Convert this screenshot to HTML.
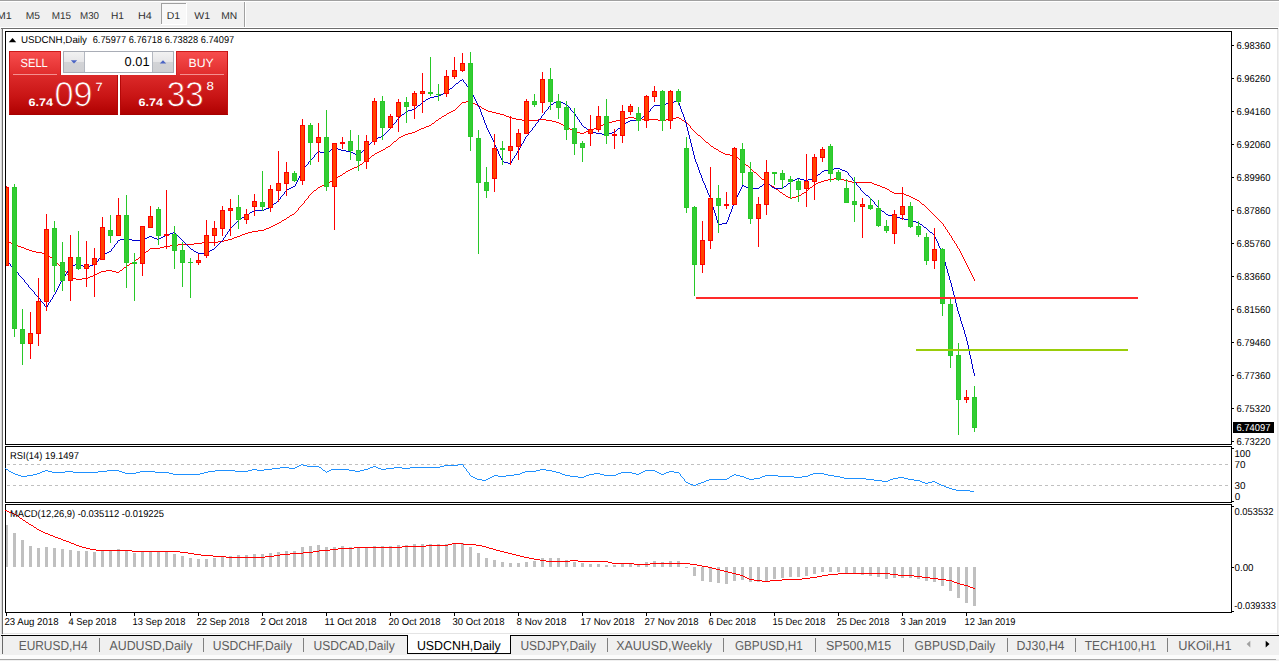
<!DOCTYPE html>
<html><head><meta charset="utf-8"><title>USDCNH,Daily</title>
<style>
html,body{margin:0;padding:0;background:#f0f0f0;overflow:hidden}
svg{display:block;font-family:"Liberation Sans",sans-serif;text-rendering:geometricPrecision}
</style></head><body>
<svg width="1279" height="661" viewBox="0 0 1279 661">
<rect x="0" y="0" width="1279" height="661" fill="#f0f0f0" />
<rect x="0" y="0" width="1279" height="1" fill="#a0a0a0" />
<rect x="0" y="1" width="1279" height="1" fill="#ffffff" />
<rect x="161" y="3" width="26" height="22" fill="#f8f8f8" />
<rect x="161" y="3" width="26" height="1" fill="#a0a0a0" />
<rect x="161" y="3" width="1" height="22" fill="#a0a0a0" />
<rect x="186" y="3" width="1" height="22" fill="#ffffff" />
<rect x="161" y="24" width="26" height="1" fill="#ffffff" />
<rect x="244" y="2" width="1" height="25" fill="#a0a0a0" />
<rect x="245" y="2" width="1" height="25" fill="#ffffff" />
<text x="-3.3" y="19" font-size="10" fill="#303030" font-weight="normal" text-anchor="start" textLength="15.0" lengthAdjust="spacingAndGlyphs" >M1</text>
<text x="25.8" y="19" font-size="10" fill="#303030" font-weight="normal" text-anchor="start" textLength="14.3" lengthAdjust="spacingAndGlyphs" >M5</text>
<text x="51.800000000000004" y="19" font-size="10" fill="#303030" font-weight="normal" text-anchor="start" textLength="19.3" lengthAdjust="spacingAndGlyphs" >M15</text>
<text x="80.0" y="19" font-size="10" fill="#303030" font-weight="normal" text-anchor="start" textLength="19.0" lengthAdjust="spacingAndGlyphs" >M30</text>
<text x="111.0" y="19" font-size="10" fill="#303030" font-weight="normal" text-anchor="start" textLength="13.0" lengthAdjust="spacingAndGlyphs" >H1</text>
<text x="138.0" y="19" font-size="10" fill="#303030" font-weight="normal" text-anchor="start" textLength="13.8" lengthAdjust="spacingAndGlyphs" >H4</text>
<text x="166.79999999999998" y="19" font-size="10" fill="#303030" font-weight="normal" text-anchor="start" textLength="13.4" lengthAdjust="spacingAndGlyphs" >D1</text>
<text x="194.2" y="19" font-size="10" fill="#303030" font-weight="normal" text-anchor="start" textLength="15.8" lengthAdjust="spacingAndGlyphs" >W1</text>
<text x="221.2" y="19" font-size="10" fill="#303030" font-weight="normal" text-anchor="start" textLength="16.0" lengthAdjust="spacingAndGlyphs" >MN</text>
<rect x="0" y="27" width="1279" height="1" fill="#ffffff" />
<rect x="1" y="28" width="1277" height="1" fill="#6e6e6e" />
<rect x="3" y="29" width="1274" height="606" fill="#ffffff" />
<rect x="3" y="633" width="1274" height="1" fill="#e4e4e4" />
<rect x="1277" y="29" width="1" height="606" fill="#e6e6e6" />
<rect x="2" y="28" width="1" height="606" fill="#6e6e6e" />
<rect x="1" y="29" width="1" height="605" fill="#d8d8d8" />
<rect x="1" y="635" width="1278" height="1" fill="#000000" />
<rect x="2" y="636" width="1" height="18" fill="#696969" />
<rect x="0" y="655" width="1279" height="4" fill="#fcfcfc" />
<rect x="0" y="659" width="1276" height="1" fill="#a6a6a6" />
<rect x="5" y="31" width="1227" height="1" fill="#000" />
<rect x="5" y="444" width="1227" height="1" fill="#000" />
<rect x="5" y="31" width="1" height="414" fill="#000" />
<rect x="1231" y="31" width="1" height="414" fill="#000" />
<rect x="5" y="446" width="1227" height="1" fill="#000" />
<rect x="5" y="502" width="1227" height="1" fill="#000" />
<rect x="5" y="446" width="1" height="57" fill="#000" />
<rect x="1231" y="446" width="1" height="57" fill="#000" />
<rect x="5" y="504" width="1227" height="1" fill="#000" />
<rect x="5" y="612" width="1227" height="1" fill="#000" />
<rect x="5" y="504" width="1" height="109" fill="#000" />
<rect x="1231" y="504" width="1" height="109" fill="#000" />
<g shape-rendering="crispEdges">
<path fill="none" stroke="#ff0000" stroke-width="1" d="M224 240.5h4M7 241.5h2M218 241.5h6M9 242.5h2M202 242.5h16M11 243.5h2M194 243.5h8M13 244.5h3M178 244.5h16M16 245.5h2M170 245.5h8M18 246.5h3M164 246.5h6M21 247.5h3M160 247.5h4M24 248.5h2M150 248.5h10M26 249.5h3M29 250.5h3M32 251.5h4M146 251.5h2M36 252.5h6M42 253.5h5M140 256.5h2M50 257.5h2M136 259.5h2M132 262.5h2M130 263.5h2M127 265.5h2M124 267.5h2M106 270.5h6M120 270.5h2M101 271.5h5M112 271.5h4M99 272.5h2M116 272.5h3M97 273.5h2M95 274.5h2M93 275.5h2M90 276.5h3M70 277.5h2M88 277.5h2M72 278.5h4M82 278.5h6M76 279.5h6M228 239.5h4M232 238.5h2M234 237.5h3M237 236.5h3M240 235.5h2M242 234.5h3M245 233.5h3M248 232.5h4M252 231.5h6M258 230.5h6M264 229.5h2M266 228.5h3M269 227.5h2M271 226.5h2M273 225.5h2M275 224.5h2M277 223.5h2M279 222.5h2M282 220.5h2M284 219.5h2M287 217.5h2M290 215.5h2M292 214.5h2M922 204.5h2M917 200.5h2M915 199.5h2M790 198.5h2M913 198.5h2M786 196.5h2M796 196.5h3M909 196.5h2M788 197.5h2M792 197.5h4M911 197.5h2M799 195.5h2M906 195.5h3M783 194.5h2M904 194.5h2M802 193.5h2M894 193.5h10M780 192.5h2M804 192.5h2M892 192.5h2M890 191.5h2M314 190.5h2M776 189.5h2M887 189.5h2M885 188.5h2M318 187.5h2M810 187.5h2M882 187.5h3M320 186.5h2M772 186.5h2M880 186.5h2M322 185.5h3M770 185.5h2M877 185.5h3M325 184.5h2M814 184.5h2M874 184.5h3M327 183.5h2M767 183.5h2M816 183.5h2M872 183.5h2M818 182.5h3M852 182.5h20M330 181.5h2M821 181.5h3M848 181.5h4M332 180.5h2M824 180.5h4M844 180.5h4M762 179.5h2M828 179.5h6M840 179.5h4M335 178.5h2M834 178.5h6M338 176.5h2M340 175.5h2M343 173.5h2M754 172.5h2M346 171.5h2M348 170.5h2M350 169.5h2M352 168.5h2M354 167.5h3M357 166.5h2M746 165.5h2M360 164.5h2M364 161.5h2M740 160.5h2M368 158.5h2M736 157.5h2M372 155.5h2M730 155.5h5M725 154.5h5M375 153.5h2M723 153.5h2M377 152.5h2M721 152.5h2M379 151.5h2M719 151.5h2M381 150.5h2M383 149.5h2M716 149.5h2M714 148.5h2M386 147.5h2M388 146.5h2M711 146.5h2M706 142.5h2M394 141.5h2M399 137.5h2M401 136.5h2M403 135.5h2M698 135.5h2M405 134.5h3M408 133.5h4M580 133.5h4M412 132.5h3M576 132.5h4M584 132.5h2M415 131.5h2M574 131.5h2M586 131.5h3M417 130.5h2M572 130.5h2M589 130.5h3M419 129.5h2M570 129.5h2M592 129.5h2M421 128.5h3M594 128.5h3M424 127.5h2M567 127.5h2M597 127.5h2M426 126.5h3M565 126.5h2M599 126.5h2M429 125.5h2M563 125.5h2M601 125.5h2M561 124.5h2M603 124.5h2M432 123.5h2M559 123.5h2M605 123.5h3M556 122.5h3M608 122.5h4M552 121.5h4M612 121.5h4M684 121.5h2M436 120.5h2M522 120.5h16M546 120.5h6M616 120.5h4M658 120.5h8M682 120.5h2M516 119.5h6M538 119.5h8M620 119.5h4M642 119.5h16M666 119.5h6M439 118.5h2M512 118.5h4M624 118.5h4M634 118.5h8M672 118.5h4M679 118.5h2M509 117.5h3M628 117.5h6M676 117.5h3M442 116.5h2M506 116.5h3M444 115.5h2M504 115.5h2M500 114.5h4M447 113.5h2M496 113.5h4M449 112.5h2M492 112.5h4M451 111.5h2M488 111.5h4M453 110.5h2M486 110.5h2M484 109.5h2M482 108.5h2M479 106.5h2M477 105.5h2M475 104.5h2M473 103.5h2M462 102.5h4M471 102.5h2M466 101.5h5M6 240.5h1M47 254.5h1M48 255.5h1M49 256.5h1M52 258.5h1M53 259.5h1M54 260.5h1M55 261.5h1M56 262.5h1M57 263.5h1M58 264.5h1M59 265.5h1M60 266.5h1M61 267.5h1M62 268.5h1M63 269.5h1M64 270.5h1M65 271.5h1M66.5 272v2M67 274.5h1M68 275.5h1M69 276.5h1M119 271.5h1M122 269.5h1M123 268.5h1M126 266.5h1M129 264.5h1M134 261.5h1M135 260.5h1M138 258.5h1M139 257.5h1M142 255.5h1M143 254.5h1M144 253.5h1M145 252.5h1M148 250.5h1M149 249.5h1M281 221.5h1M286 218.5h1M289 216.5h1M294 213.5h1M295 212.5h1M296 211.5h1M297 210.5h1M298.5 208v2M299 207.5h1M300 206.5h1M301 205.5h1M302 204.5h1M303 203.5h1M304.5 201v2M305 200.5h1M306 199.5h1M307 198.5h1M308.5 196v2M309 195.5h1M310 194.5h1M311 193.5h1M312 192.5h1M313 191.5h1M316 189.5h1M317 188.5h1M329 182.5h1M334 179.5h1M337 177.5h1M342 174.5h1M345 172.5h1M359 165.5h1M362 163.5h1M363 162.5h1M366 160.5h1M367 159.5h1M370 157.5h1M371 156.5h1M374 154.5h1M385 148.5h1M390 145.5h1M391 144.5h1M392 143.5h1M393 142.5h1M396 140.5h1M397 139.5h1M398 138.5h1M431 124.5h1M434 122.5h1M435 121.5h1M438 119.5h1M441 117.5h1M446 114.5h1M455 109.5h1M456 108.5h1M457 107.5h1M458 106.5h1M459 105.5h1M460 104.5h1M461 103.5h1M481 107.5h1M569 128.5h1M681 119.5h1M686 122.5h1M687 123.5h1M688 124.5h1M689 125.5h1M690.5 126v2M691 128.5h1M692 129.5h1M693 130.5h1M694 131.5h1M695 132.5h1M696 133.5h1M697 134.5h1M700 136.5h1M701 137.5h1M702 138.5h1M703 139.5h1M704 140.5h1M705 141.5h1M708 143.5h1M709 144.5h1M710 145.5h1M713 147.5h1M718 150.5h1M735 156.5h1M738 158.5h1M739 159.5h1M742 161.5h1M743 162.5h1M744 163.5h1M745 164.5h1M748 166.5h1M749 167.5h1M750 168.5h1M751 169.5h1M752 170.5h1M753 171.5h1M756 173.5h1M757 174.5h1M758 175.5h1M759 176.5h1M760 177.5h1M761 178.5h1M764 180.5h1M765 181.5h1M766 182.5h1M769 184.5h1M774 187.5h1M775 188.5h1M778 190.5h1M779 191.5h1M782 193.5h1M785 195.5h1M801 194.5h1M806 191.5h1M807 190.5h1M808 189.5h1M809 188.5h1M812 186.5h1M813 185.5h1M889 190.5h1M919 201.5h1M920 202.5h1M921 203.5h1M924 205.5h1M925 206.5h1M926 207.5h1M927 208.5h1M928 209.5h1M929 210.5h1M930 211.5h1M931 212.5h1M932 213.5h1M933 214.5h1M934 215.5h1M935 216.5h1M936 217.5h1M937 218.5h1M938 219.5h1M939 220.5h1M940 221.5h1M941 222.5h1M942 223.5h1M943.5 224v2M944 226.5h1M945.5 227v2M946 229.5h1M947.5 230v2M948 232.5h1M949.5 233v2M950 235.5h1M951.5 236v2M952.5 238v2M953 240.5h1M954.5 241v2M955 243.5h1M956.5 244v2M957.5 246v2M958 248.5h1M959.5 249v2M960.5 251v2M961.5 253v2M962.5 255v2M963.5 257v2M964.5 259v2M965.5 261v2M966.5 263v2M967.5 265v2M968.5 267v2M969.5 269v2M970.5 271v2M971.5 273v2M972.5 275v2M973.5 277v2M974.5 279v2"/>
<path fill="none" stroke="#0000cd" stroke-width="1" d="M77 263.5h2M75 264.5h2M79 264.5h2M93 264.5h2M73 265.5h2M81 265.5h2M90 265.5h3M71 266.5h2M83 266.5h2M88 266.5h2M85 267.5h3M103 254.5h2M105 253.5h2M198 253.5h9M107 252.5h2M196 252.5h2M207 252.5h2M109 251.5h2M194 251.5h2M191 249.5h2M212 249.5h2M210 250.5h2M118 240.5h2M132 240.5h11M120 239.5h4M128 239.5h4M143 239.5h2M157 239.5h2M124 238.5h4M145 238.5h2M154 238.5h3M159 238.5h2M147 237.5h2M152 237.5h2M161 237.5h2M149 236.5h3M163 236.5h2M165 235.5h3M168 234.5h2M170 233.5h3M173 232.5h2M930 232.5h2M924 227.5h2M718 224.5h4M920 224.5h2M722 223.5h5M916 222.5h3M912 221.5h4M908 220.5h4M239 219.5h2M904 219.5h4M900 218.5h4M242 217.5h2M896 217.5h4M244 216.5h2M892 216.5h4M888 215.5h4M247 214.5h2M886 214.5h2M250 212.5h2M252 211.5h2M882 211.5h2M254 210.5h10M264 209.5h2M266 208.5h3M269 207.5h2M274 203.5h2M866 195.5h2M287 189.5h2M289 188.5h2M749 188.5h10M774 188.5h9M291 187.5h2M746 187.5h3M772 187.5h2M293 186.5h2M744 186.5h2M760 186.5h2M784 186.5h2M768 184.5h2M742 185.5h2M764 183.5h2M788 183.5h2M793 180.5h2M804 180.5h4M791 181.5h2M797 178.5h3M812 178.5h3M795 179.5h2M800 179.5h4M808 179.5h4M818 174.5h2M824 170.5h4M842 170.5h3M822 171.5h2M845 171.5h2M828 169.5h6M840 169.5h2M834 168.5h6M504 162.5h4M508 163.5h3M502 161.5h2M357 155.5h2M355 154.5h2M324 153.5h3M353 153.5h2M320 152.5h4M351 152.5h2M318 151.5h2M328 151.5h2M346 151.5h5M341 150.5h5M338 149.5h3M332 148.5h2M336 148.5h2M334 147.5h2M374 139.5h2M376 138.5h2M378 137.5h3M381 136.5h2M602 134.5h6M596 133.5h6M608 133.5h4M592 132.5h4M612 132.5h3M590 131.5h2M588 130.5h2M618 128.5h2M584 127.5h2M623 124.5h2M626 122.5h2M630 120.5h9M628 121.5h2M640 118.5h2M644 115.5h2M402 114.5h2M406 111.5h2M408 110.5h4M412 109.5h3M418 105.5h2M654 105.5h10M551 104.5h2M565 104.5h2M664 104.5h2M563 103.5h2M666 103.5h3M554 102.5h2M561 102.5h2M669 102.5h5M423 101.5h2M556 101.5h2M559 101.5h2M674 101.5h5M426 99.5h2M428 98.5h2M430 97.5h4M434 96.5h5M439 95.5h2M441 94.5h2M443 93.5h2M445 92.5h2M450 88.5h2M456 83.5h2M460 80.5h2M6 260.5h1M7 261.5h1M8 262.5h1M9 263.5h1M10.5 264v2M11 266.5h1M12 267.5h1M13 268.5h1M14 269.5h1M15 270.5h1M16 271.5h1M17 272.5h1M18.5 273v2M19 275.5h1M20 276.5h1M21 277.5h1M22 278.5h1M23 279.5h1M24.5 280v2M25 282.5h1M26 283.5h1M27 284.5h1M28.5 285v2M29 287.5h1M30 288.5h1M31 289.5h1M32 290.5h1M33 291.5h1M34.5 292v2M35 294.5h1M36 295.5h1M37 296.5h1M38 297.5h1M39 298.5h1M40.5 299v2M41 301.5h1M42 302.5h1M43 303.5h1M44.5 304v2M45 306.5h1M46 307.5h1M47.5 305v2M48.5 303v2M49 302.5h1M50.5 300v2M51 299.5h1M52.5 297v2M53.5 295v2M54 294.5h1M55.5 292v2M56.5 290v2M57.5 288v2M58.5 286v2M59.5 284v2M60.5 282v2M61.5 280v2M62 279.5h1M63.5 277v2M64 276.5h1M65.5 274v2M66 273.5h1M67.5 271v2M68 270.5h1M69.5 268v2M70 267.5h1M95 263.5h1M96 262.5h1M97 261.5h1M98.5 259v2M99 258.5h1M100 257.5h1M101 256.5h1M102 255.5h1M111.5 249v2M112 248.5h1M113 247.5h1M114.5 245v2M115 244.5h1M116 243.5h1M117.5 241v2M175 233.5h1M176 234.5h1M177 235.5h1M178 236.5h1M179 237.5h1M180 238.5h1M181 239.5h1M182 240.5h1M183 241.5h1M184 242.5h1M185 243.5h1M186 244.5h1M187 245.5h1M188 246.5h1M189 247.5h1M190 248.5h1M193 250.5h1M209 251.5h1M214 248.5h1M215 247.5h1M216 246.5h1M217 245.5h1M218 244.5h1M219 243.5h1M220 242.5h1M221 241.5h1M222 240.5h1M223.5 238v2M224 237.5h1M225.5 235v2M226 234.5h1M227.5 232v2M228 231.5h1M229.5 229v2M230 228.5h1M231 227.5h1M232 226.5h1M233 225.5h1M234 224.5h1M235 223.5h1M236 222.5h1M237 221.5h1M238 220.5h1M241 218.5h1M246 215.5h1M249 213.5h1M271 206.5h1M272 205.5h1M273 204.5h1M276 202.5h1M277 201.5h1M278 200.5h1M279 199.5h1M280.5 197v2M281 196.5h1M282 195.5h1M283 194.5h1M284.5 192v2M285 191.5h1M286 190.5h1M295.5 184v2M296.5 182v2M297.5 180v2M298.5 178v2M299.5 176v2M300.5 174v2M301.5 172v2M302.5 170v2M303 169.5h1M304.5 167v2M305 166.5h1M306 165.5h1M307 164.5h1M308.5 162v2M309 161.5h1M310 160.5h1M311 159.5h1M312 158.5h1M313 157.5h1M314.5 155v2M315 154.5h1M316 153.5h1M317 152.5h1M327 152.5h1M330 150.5h1M331 149.5h1M359 154.5h1M360 153.5h1M361 152.5h1M362 151.5h1M363 150.5h1M364 149.5h1M365 148.5h1M366 147.5h1M367 146.5h1M368 145.5h1M369 144.5h1M370 143.5h1M371 142.5h1M372 141.5h1M373 140.5h1M383 135.5h1M384 134.5h1M385 133.5h1M386 132.5h1M387 131.5h1M388 130.5h1M389 129.5h1M390 128.5h1M391 127.5h1M392.5 125v2M393 124.5h1M394 123.5h1M395 122.5h1M396.5 120v2M397 119.5h1M398 118.5h1M399 117.5h1M400 116.5h1M401 115.5h1M404 113.5h1M405 112.5h1M415 108.5h1M416 107.5h1M417 106.5h1M420 104.5h1M421 103.5h1M422 102.5h1M425 100.5h1M447 91.5h1M448 90.5h1M449 89.5h1M452 87.5h1M453 86.5h1M454 85.5h1M455 84.5h1M458 82.5h1M459 81.5h1M462 79.5h1M463.5 80v2M464 82.5h1M465 83.5h1M466.5 84v2M467 86.5h1M468 87.5h1M469.5 88v2M470 90.5h1M471.5 91v2M472.5 93v2M473.5 95v2M474.5 97v2M475.5 99v2M476.5 101v2M477.5 103v2M478.5 105v2M479.5 107v2M480.5 109v3M481.5 112v3M482.5 115v2M483.5 117v3M484.5 120v3M485.5 123v2M486.5 125v3M487.5 128v2M488.5 130v2M489.5 132v2M490.5 134v2M491.5 136v2M492.5 138v2M493.5 140v2M494.5 142v3M495.5 145v2M496.5 147v2M497.5 149v2M498.5 151v3M499.5 154v2M500.5 156v2M501.5 158v2M502 160.5h1M511.5 161v2M512.5 159v2M513 158.5h1M514.5 156v2M515 155.5h1M516.5 153v2M517.5 151v2M518 150.5h1M519.5 148v2M520.5 146v2M521.5 144v2M522 143.5h1M523.5 141v2M524.5 139v2M525.5 137v2M526 136.5h1M527 135.5h1M528.5 133v2M529 132.5h1M530 131.5h1M531 130.5h1M532.5 128v2M533 127.5h1M534 126.5h1M535.5 124v2M536 123.5h1M537 122.5h1M538.5 120v2M539 119.5h1M540 118.5h1M541.5 116v2M542 115.5h1M543 114.5h1M544.5 112v2M545 111.5h1M546 110.5h1M547 109.5h1M548.5 107v2M549 106.5h1M550 105.5h1M553 103.5h1M558 100.5h1M567 105.5h1M568 106.5h1M569 107.5h1M570.5 108v2M571 110.5h1M572 111.5h1M573 112.5h1M574 113.5h1M575.5 114v2M576 116.5h1M577.5 117v2M578 119.5h1M579.5 120v2M580 122.5h1M581.5 123v2M582 125.5h1M583 126.5h1M586 128.5h1M587 129.5h1M615 131.5h1M616 130.5h1M617 129.5h1M620 127.5h1M621 126.5h1M622 125.5h1M625 123.5h1M639 119.5h1M642 117.5h1M643 116.5h1M646 114.5h1M647 113.5h1M648 112.5h1M649 111.5h1M650.5 109v2M651 108.5h1M652 107.5h1M653 106.5h1M678 102.5h1M679.5 103v3M680.5 106v3M681.5 109v3M682.5 112v2M683.5 114v3M684.5 117v3M685.5 120v3M686.5 123v4M687.5 127v4M688.5 131v4M689.5 135v4M690.5 139v4M691.5 143v4M692.5 147v4M693.5 151v4M694.5 155v4M695.5 159v3M696.5 162v2M697.5 164v3M698.5 167v3M699.5 170v3M700.5 173v2M701.5 175v3M702.5 178v3M703.5 181v2M704.5 183v2M705.5 185v3M706.5 188v2M707.5 190v3M708.5 193v2M709.5 195v2M710.5 197v3M711.5 200v3M712.5 203v4M713.5 207v3M714.5 210v3M715.5 213v3M716.5 216v4M717.5 220v3M718 223.5h1M726 222.5h1M727.5 220v2M728.5 217v3M729.5 214v3M730.5 212v2M731.5 209v3M732.5 206v3M733.5 204v2M734.5 201v3M735.5 199v2M736.5 197v2M737.5 195v2M738.5 193v2M739.5 191v2M740.5 189v2M741.5 187v2M742 186.5h1M759 187.5h1M762 185.5h1M763 184.5h1M766 182.5h1M767 183.5h1M770 185.5h1M771 186.5h1M783 187.5h1M786 185.5h1M787 184.5h1M790 182.5h1M815 177.5h1M816 176.5h1M817 175.5h1M820 173.5h1M821 172.5h1M847 172.5h1M848.5 173v2M849 175.5h1M850 176.5h1M851 177.5h1M852.5 178v2M853 180.5h1M854 181.5h1M855 182.5h1M856.5 183v2M857 185.5h1M858 186.5h1M859 187.5h1M860.5 188v2M861 190.5h1M862 191.5h1M863 192.5h1M864 193.5h1M865 194.5h1M868 196.5h1M869 197.5h1M870 198.5h1M871 199.5h1M872 200.5h1M873 201.5h1M874.5 202v2M875 204.5h1M876 205.5h1M877 206.5h1M878 207.5h1M879 208.5h1M880 209.5h1M881 210.5h1M884 212.5h1M885 213.5h1M919 223.5h1M922 225.5h1M923 226.5h1M926 228.5h1M927 229.5h1M928 230.5h1M929 231.5h1M932 233.5h1M933 234.5h1M934.5 235v2M935.5 237v2M936.5 239v2M937.5 241v2M938.5 243v3M939.5 246v2M940.5 248v2M941.5 250v2M942.5 252v3M943.5 255v4M944.5 259v3M945.5 262v4M946.5 266v3M947.5 269v4M948.5 273v3M949.5 276v4M950.5 280v3M951.5 283v4M952.5 287v4M953.5 291v4M954.5 295v4M955.5 299v4M956.5 303v4M957.5 307v4M958.5 311v3M959.5 314v3M960.5 317v4M961.5 321v3M962.5 324v3M963.5 327v3M964.5 330v4M965.5 334v3M966.5 337v4M967.5 341v4M968.5 345v5M969.5 350v5M970.5 355v4M971.5 359v5M972.5 364v5M973.5 369v4M974.5 373v3"/>
<rect x="6" y="186" width="1" height="80" fill="#ff0000" />
<rect x="6" y="187" width="3" height="79" fill="#ff0000" />
<rect x="6" y="188" width="2" height="77" fill="#ff4500" />
<rect x="14" y="184" width="1" height="153" fill="#28c828" />
<rect x="12" y="187" width="5" height="142" fill="#28c828" />
<rect x="13" y="188" width="3" height="140" fill="#32cd32" />
<rect x="22" y="309" width="1" height="56" fill="#28c828" />
<rect x="20" y="329" width="5" height="15" fill="#28c828" />
<rect x="21" y="330" width="3" height="13" fill="#32cd32" />
<rect x="30" y="312" width="1" height="47" fill="#ff0000" />
<rect x="28" y="333" width="5" height="11" fill="#ff0000" />
<rect x="29" y="334" width="3" height="9" fill="#ff4500" />
<rect x="38" y="278" width="1" height="68" fill="#ff0000" />
<rect x="36" y="301" width="5" height="33" fill="#ff0000" />
<rect x="37" y="302" width="3" height="31" fill="#ff4500" />
<rect x="46" y="214" width="1" height="97" fill="#ff0000" />
<rect x="44" y="229" width="5" height="73" fill="#ff0000" />
<rect x="45" y="230" width="3" height="71" fill="#ff4500" />
<rect x="54" y="221" width="1" height="71" fill="#28c828" />
<rect x="52" y="228" width="5" height="38" fill="#28c828" />
<rect x="53" y="229" width="3" height="36" fill="#32cd32" />
<rect x="62" y="242" width="1" height="49" fill="#28c828" />
<rect x="60" y="262" width="5" height="19" fill="#28c828" />
<rect x="61" y="263" width="3" height="17" fill="#32cd32" />
<rect x="70" y="235" width="1" height="66" fill="#ff0000" />
<rect x="68" y="257" width="5" height="24" fill="#ff0000" />
<rect x="69" y="258" width="3" height="22" fill="#ff4500" />
<rect x="78" y="231" width="1" height="39" fill="#28c828" />
<rect x="76" y="257" width="5" height="12" fill="#28c828" />
<rect x="77" y="258" width="3" height="10" fill="#32cd32" />
<rect x="86" y="241" width="1" height="46" fill="#ff0000" />
<rect x="84" y="264" width="5" height="5" fill="#ff0000" />
<rect x="85" y="265" width="3" height="3" fill="#ff4500" />
<rect x="94" y="248" width="1" height="49" fill="#ff0000" />
<rect x="92" y="258" width="5" height="7" fill="#ff0000" />
<rect x="93" y="259" width="3" height="5" fill="#ff4500" />
<rect x="102" y="217" width="1" height="43" fill="#ff0000" />
<rect x="100" y="227" width="5" height="33" fill="#ff0000" />
<rect x="101" y="228" width="3" height="31" fill="#ff4500" />
<rect x="110" y="215" width="1" height="28" fill="#28c828" />
<rect x="108" y="230" width="5" height="6" fill="#28c828" />
<rect x="109" y="231" width="3" height="4" fill="#32cd32" />
<rect x="118" y="198" width="1" height="38" fill="#ff0000" />
<rect x="116" y="215" width="5" height="21" fill="#ff0000" />
<rect x="117" y="216" width="3" height="19" fill="#ff4500" />
<rect x="126" y="195" width="1" height="93" fill="#28c828" />
<rect x="124" y="215" width="5" height="48" fill="#28c828" />
<rect x="125" y="216" width="3" height="46" fill="#32cd32" />
<rect x="134" y="253" width="1" height="48" fill="#28c828" />
<rect x="132" y="262" width="5" height="2" fill="#28c828" />
<rect x="142" y="226" width="1" height="50" fill="#ff0000" />
<rect x="140" y="226" width="5" height="38" fill="#ff0000" />
<rect x="141" y="227" width="3" height="36" fill="#ff4500" />
<rect x="150" y="206" width="1" height="22" fill="#ff0000" />
<rect x="148" y="216" width="5" height="12" fill="#ff0000" />
<rect x="149" y="217" width="3" height="10" fill="#ff4500" />
<rect x="158" y="207" width="1" height="38" fill="#28c828" />
<rect x="156" y="209" width="5" height="27" fill="#28c828" />
<rect x="157" y="210" width="3" height="25" fill="#32cd32" />
<rect x="166" y="190" width="1" height="59" fill="#ff0000" />
<rect x="164" y="234" width="5" height="2" fill="#ff0000" />
<rect x="174" y="226" width="1" height="43" fill="#28c828" />
<rect x="172" y="234" width="5" height="17" fill="#28c828" />
<rect x="173" y="235" width="3" height="15" fill="#32cd32" />
<rect x="182" y="242" width="1" height="45" fill="#28c828" />
<rect x="180" y="250" width="5" height="13" fill="#28c828" />
<rect x="181" y="251" width="3" height="11" fill="#32cd32" />
<rect x="190" y="258" width="1" height="40" fill="#28c828" />
<rect x="188" y="262" width="5" height="1" fill="#28c828" />
<rect x="198" y="254" width="1" height="11" fill="#ff0000" />
<rect x="196" y="260" width="5" height="3" fill="#ff0000" />
<rect x="197" y="261" width="3" height="1" fill="#ff4500" />
<rect x="206" y="220" width="1" height="38" fill="#ff0000" />
<rect x="204" y="235" width="5" height="21" fill="#ff0000" />
<rect x="205" y="236" width="3" height="19" fill="#ff4500" />
<rect x="214" y="221" width="1" height="25" fill="#ff0000" />
<rect x="212" y="228" width="5" height="8" fill="#ff0000" />
<rect x="213" y="229" width="3" height="6" fill="#ff4500" />
<rect x="222" y="206" width="1" height="30" fill="#ff0000" />
<rect x="220" y="210" width="5" height="19" fill="#ff0000" />
<rect x="221" y="211" width="3" height="17" fill="#ff4500" />
<rect x="230" y="199" width="1" height="37" fill="#ff0000" />
<rect x="228" y="208" width="5" height="3" fill="#ff0000" />
<rect x="229" y="209" width="3" height="1" fill="#ff4500" />
<rect x="238" y="195" width="1" height="34" fill="#28c828" />
<rect x="236" y="207" width="5" height="13" fill="#28c828" />
<rect x="237" y="208" width="3" height="11" fill="#32cd32" />
<rect x="246" y="209" width="1" height="15" fill="#ff0000" />
<rect x="244" y="214" width="5" height="6" fill="#ff0000" />
<rect x="245" y="215" width="3" height="4" fill="#ff4500" />
<rect x="254" y="194" width="1" height="22" fill="#ff0000" />
<rect x="252" y="201" width="5" height="6" fill="#ff0000" />
<rect x="253" y="202" width="3" height="4" fill="#ff4500" />
<rect x="262" y="171" width="1" height="40" fill="#28c828" />
<rect x="260" y="202" width="5" height="5" fill="#28c828" />
<rect x="261" y="203" width="3" height="3" fill="#32cd32" />
<rect x="270" y="185" width="1" height="27" fill="#ff0000" />
<rect x="268" y="189" width="5" height="19" fill="#ff0000" />
<rect x="269" y="190" width="3" height="17" fill="#ff4500" />
<rect x="278" y="151" width="1" height="51" fill="#ff0000" />
<rect x="276" y="183" width="5" height="8" fill="#ff0000" />
<rect x="277" y="184" width="3" height="6" fill="#ff4500" />
<rect x="286" y="162" width="1" height="34" fill="#ff0000" />
<rect x="284" y="172" width="5" height="12" fill="#ff0000" />
<rect x="285" y="173" width="3" height="10" fill="#ff4500" />
<rect x="294" y="171" width="1" height="11" fill="#28c828" />
<rect x="292" y="173" width="5" height="8" fill="#28c828" />
<rect x="293" y="174" width="3" height="6" fill="#32cd32" />
<rect x="302" y="119" width="1" height="66" fill="#ff0000" />
<rect x="300" y="125" width="5" height="56" fill="#ff0000" />
<rect x="301" y="126" width="3" height="54" fill="#ff4500" />
<rect x="310" y="123" width="1" height="42" fill="#28c828" />
<rect x="308" y="125" width="5" height="18" fill="#28c828" />
<rect x="309" y="126" width="3" height="16" fill="#32cd32" />
<rect x="318" y="123" width="1" height="39" fill="#ff0000" />
<rect x="316" y="137" width="5" height="6" fill="#ff0000" />
<rect x="317" y="138" width="3" height="4" fill="#ff4500" />
<rect x="326" y="110" width="1" height="81" fill="#28c828" />
<rect x="324" y="137" width="5" height="50" fill="#28c828" />
<rect x="325" y="138" width="3" height="48" fill="#32cd32" />
<rect x="334" y="143" width="1" height="87" fill="#ff0000" />
<rect x="332" y="143" width="5" height="44" fill="#ff0000" />
<rect x="333" y="144" width="3" height="42" fill="#ff4500" />
<rect x="342" y="137" width="1" height="12" fill="#ff0000" />
<rect x="340" y="142" width="5" height="2" fill="#ff0000" />
<rect x="350" y="130" width="1" height="30" fill="#28c828" />
<rect x="348" y="141" width="5" height="10" fill="#28c828" />
<rect x="349" y="142" width="3" height="8" fill="#32cd32" />
<rect x="358" y="135" width="1" height="36" fill="#28c828" />
<rect x="356" y="150" width="5" height="11" fill="#28c828" />
<rect x="357" y="151" width="3" height="9" fill="#32cd32" />
<rect x="366" y="135" width="1" height="34" fill="#ff0000" />
<rect x="364" y="141" width="5" height="21" fill="#ff0000" />
<rect x="365" y="142" width="3" height="19" fill="#ff4500" />
<rect x="374" y="98" width="1" height="47" fill="#ff0000" />
<rect x="372" y="101" width="5" height="41" fill="#ff0000" />
<rect x="373" y="102" width="3" height="39" fill="#ff4500" />
<rect x="382" y="96" width="1" height="44" fill="#28c828" />
<rect x="380" y="101" width="5" height="27" fill="#28c828" />
<rect x="381" y="102" width="3" height="25" fill="#32cd32" />
<rect x="390" y="114" width="1" height="15" fill="#ff0000" />
<rect x="388" y="116" width="5" height="12" fill="#ff0000" />
<rect x="389" y="117" width="3" height="10" fill="#ff4500" />
<rect x="398" y="99" width="1" height="33" fill="#ff0000" />
<rect x="396" y="102" width="5" height="15" fill="#ff0000" />
<rect x="397" y="103" width="3" height="13" fill="#ff4500" />
<rect x="406" y="97" width="1" height="26" fill="#28c828" />
<rect x="404" y="102" width="5" height="5" fill="#28c828" />
<rect x="405" y="103" width="3" height="3" fill="#32cd32" />
<rect x="414" y="91" width="1" height="28" fill="#ff0000" />
<rect x="412" y="93" width="5" height="13" fill="#ff0000" />
<rect x="413" y="94" width="3" height="11" fill="#ff4500" />
<rect x="422" y="73" width="1" height="40" fill="#ff0000" />
<rect x="420" y="91" width="5" height="3" fill="#ff0000" />
<rect x="421" y="92" width="3" height="1" fill="#ff4500" />
<rect x="430" y="57" width="1" height="39" fill="#28c828" />
<rect x="428" y="92" width="5" height="2" fill="#28c828" />
<rect x="438" y="84" width="1" height="17" fill="#28c828" />
<rect x="436" y="94" width="5" height="1" fill="#28c828" />
<rect x="446" y="70" width="1" height="27" fill="#ff0000" />
<rect x="444" y="76" width="5" height="18" fill="#ff0000" />
<rect x="445" y="77" width="3" height="16" fill="#ff4500" />
<rect x="454" y="57" width="1" height="22" fill="#ff0000" />
<rect x="452" y="70" width="5" height="7" fill="#ff0000" />
<rect x="453" y="71" width="3" height="5" fill="#ff4500" />
<rect x="462" y="53" width="1" height="19" fill="#ff0000" />
<rect x="460" y="63" width="5" height="8" fill="#ff0000" />
<rect x="461" y="64" width="3" height="6" fill="#ff4500" />
<rect x="470" y="52" width="1" height="99" fill="#28c828" />
<rect x="468" y="63" width="5" height="74" fill="#28c828" />
<rect x="469" y="64" width="3" height="72" fill="#32cd32" />
<rect x="478" y="130" width="1" height="124" fill="#28c828" />
<rect x="476" y="138" width="5" height="45" fill="#28c828" />
<rect x="477" y="139" width="3" height="43" fill="#32cd32" />
<rect x="486" y="167" width="1" height="31" fill="#28c828" />
<rect x="484" y="182" width="5" height="9" fill="#28c828" />
<rect x="485" y="183" width="3" height="7" fill="#32cd32" />
<rect x="494" y="134" width="1" height="58" fill="#ff0000" />
<rect x="492" y="148" width="5" height="31" fill="#ff0000" />
<rect x="493" y="149" width="3" height="29" fill="#ff4500" />
<rect x="502" y="141" width="1" height="24" fill="#28c828" />
<rect x="500" y="148" width="5" height="2" fill="#28c828" />
<rect x="510" y="116" width="1" height="49" fill="#ff0000" />
<rect x="508" y="146" width="5" height="5" fill="#ff0000" />
<rect x="509" y="147" width="3" height="3" fill="#ff4500" />
<rect x="518" y="129" width="1" height="31" fill="#ff0000" />
<rect x="516" y="133" width="5" height="14" fill="#ff0000" />
<rect x="517" y="134" width="3" height="12" fill="#ff4500" />
<rect x="526" y="99" width="1" height="35" fill="#ff0000" />
<rect x="524" y="101" width="5" height="33" fill="#ff0000" />
<rect x="525" y="102" width="3" height="31" fill="#ff4500" />
<rect x="534" y="94" width="1" height="13" fill="#28c828" />
<rect x="532" y="101" width="5" height="4" fill="#28c828" />
<rect x="533" y="102" width="3" height="2" fill="#32cd32" />
<rect x="542" y="72" width="1" height="41" fill="#ff0000" />
<rect x="540" y="79" width="5" height="24" fill="#ff0000" />
<rect x="541" y="80" width="3" height="22" fill="#ff4500" />
<rect x="550" y="68" width="1" height="42" fill="#28c828" />
<rect x="548" y="79" width="5" height="23" fill="#28c828" />
<rect x="549" y="80" width="3" height="21" fill="#32cd32" />
<rect x="558" y="94" width="1" height="25" fill="#28c828" />
<rect x="556" y="101" width="5" height="7" fill="#28c828" />
<rect x="557" y="102" width="3" height="5" fill="#32cd32" />
<rect x="566" y="101" width="1" height="39" fill="#28c828" />
<rect x="564" y="107" width="5" height="23" fill="#28c828" />
<rect x="565" y="108" width="3" height="21" fill="#32cd32" />
<rect x="574" y="108" width="1" height="47" fill="#28c828" />
<rect x="572" y="128" width="5" height="16" fill="#28c828" />
<rect x="573" y="129" width="3" height="14" fill="#32cd32" />
<rect x="582" y="141" width="1" height="21" fill="#28c828" />
<rect x="580" y="143" width="5" height="5" fill="#28c828" />
<rect x="581" y="144" width="3" height="3" fill="#32cd32" />
<rect x="590" y="115" width="1" height="31" fill="#ff0000" />
<rect x="588" y="129" width="5" height="5" fill="#ff0000" />
<rect x="589" y="130" width="3" height="3" fill="#ff4500" />
<rect x="598" y="106" width="1" height="26" fill="#ff0000" />
<rect x="596" y="116" width="5" height="14" fill="#ff0000" />
<rect x="597" y="117" width="3" height="12" fill="#ff4500" />
<rect x="606" y="99" width="1" height="45" fill="#28c828" />
<rect x="604" y="116" width="5" height="20" fill="#28c828" />
<rect x="605" y="117" width="3" height="18" fill="#32cd32" />
<rect x="614" y="129" width="1" height="20" fill="#ff0000" />
<rect x="612" y="134" width="5" height="2" fill="#ff0000" />
<rect x="622" y="105" width="1" height="38" fill="#ff0000" />
<rect x="620" y="111" width="5" height="25" fill="#ff0000" />
<rect x="621" y="112" width="3" height="23" fill="#ff4500" />
<rect x="630" y="104" width="1" height="11" fill="#ff0000" />
<rect x="628" y="106" width="5" height="6" fill="#ff0000" />
<rect x="629" y="107" width="3" height="4" fill="#ff4500" />
<rect x="638" y="107" width="1" height="24" fill="#28c828" />
<rect x="636" y="113" width="5" height="8" fill="#28c828" />
<rect x="637" y="114" width="3" height="6" fill="#32cd32" />
<rect x="646" y="95" width="1" height="33" fill="#ff0000" />
<rect x="644" y="96" width="5" height="25" fill="#ff0000" />
<rect x="645" y="97" width="3" height="23" fill="#ff4500" />
<rect x="654" y="86" width="1" height="16" fill="#ff0000" />
<rect x="652" y="91" width="5" height="6" fill="#ff0000" />
<rect x="653" y="92" width="3" height="4" fill="#ff4500" />
<rect x="662" y="90" width="1" height="41" fill="#28c828" />
<rect x="660" y="91" width="5" height="30" fill="#28c828" />
<rect x="661" y="92" width="3" height="28" fill="#32cd32" />
<rect x="670" y="90" width="1" height="39" fill="#ff0000" />
<rect x="668" y="91" width="5" height="30" fill="#ff0000" />
<rect x="669" y="92" width="3" height="28" fill="#ff4500" />
<rect x="678" y="89" width="1" height="16" fill="#28c828" />
<rect x="676" y="91" width="5" height="11" fill="#28c828" />
<rect x="677" y="92" width="3" height="9" fill="#32cd32" />
<rect x="686" y="137" width="1" height="76" fill="#28c828" />
<rect x="684" y="148" width="5" height="60" fill="#28c828" />
<rect x="685" y="149" width="3" height="58" fill="#32cd32" />
<rect x="694" y="206" width="1" height="90" fill="#28c828" />
<rect x="692" y="207" width="5" height="58" fill="#28c828" />
<rect x="693" y="208" width="3" height="56" fill="#32cd32" />
<rect x="702" y="221" width="1" height="52" fill="#ff0000" />
<rect x="700" y="240" width="5" height="25" fill="#ff0000" />
<rect x="701" y="241" width="3" height="23" fill="#ff4500" />
<rect x="710" y="167" width="1" height="82" fill="#ff0000" />
<rect x="708" y="198" width="5" height="43" fill="#ff0000" />
<rect x="709" y="199" width="3" height="41" fill="#ff4500" />
<rect x="718" y="185" width="1" height="48" fill="#28c828" />
<rect x="716" y="198" width="5" height="8" fill="#28c828" />
<rect x="717" y="199" width="3" height="6" fill="#32cd32" />
<rect x="726" y="192" width="1" height="17" fill="#ff0000" />
<rect x="724" y="204" width="5" height="2" fill="#ff0000" />
<rect x="734" y="147" width="1" height="58" fill="#ff0000" />
<rect x="732" y="148" width="5" height="57" fill="#ff0000" />
<rect x="733" y="149" width="3" height="55" fill="#ff4500" />
<rect x="742" y="143" width="1" height="42" fill="#28c828" />
<rect x="740" y="149" width="5" height="24" fill="#28c828" />
<rect x="741" y="150" width="3" height="22" fill="#32cd32" />
<rect x="750" y="162" width="1" height="62" fill="#28c828" />
<rect x="748" y="172" width="5" height="47" fill="#28c828" />
<rect x="749" y="173" width="3" height="45" fill="#32cd32" />
<rect x="758" y="197" width="1" height="50" fill="#ff0000" />
<rect x="756" y="204" width="5" height="15" fill="#ff0000" />
<rect x="757" y="205" width="3" height="13" fill="#ff4500" />
<rect x="766" y="160" width="1" height="55" fill="#ff0000" />
<rect x="764" y="172" width="5" height="33" fill="#ff0000" />
<rect x="765" y="173" width="3" height="31" fill="#ff4500" />
<rect x="774" y="172" width="1" height="13" fill="#28c828" />
<rect x="772" y="172" width="5" height="2" fill="#28c828" />
<rect x="782" y="170" width="1" height="19" fill="#28c828" />
<rect x="780" y="173" width="5" height="7" fill="#28c828" />
<rect x="781" y="174" width="3" height="5" fill="#32cd32" />
<rect x="790" y="176" width="1" height="23" fill="#28c828" />
<rect x="788" y="179" width="5" height="3" fill="#28c828" />
<rect x="789" y="180" width="3" height="1" fill="#32cd32" />
<rect x="798" y="179" width="1" height="23" fill="#28c828" />
<rect x="796" y="181" width="5" height="9" fill="#28c828" />
<rect x="797" y="182" width="3" height="7" fill="#32cd32" />
<rect x="806" y="154" width="1" height="53" fill="#ff0000" />
<rect x="804" y="181" width="5" height="8" fill="#ff0000" />
<rect x="805" y="182" width="3" height="6" fill="#ff4500" />
<rect x="814" y="154" width="1" height="46" fill="#ff0000" />
<rect x="812" y="157" width="5" height="25" fill="#ff0000" />
<rect x="813" y="158" width="3" height="23" fill="#ff4500" />
<rect x="822" y="147" width="1" height="15" fill="#ff0000" />
<rect x="820" y="149" width="5" height="9" fill="#ff0000" />
<rect x="821" y="150" width="3" height="7" fill="#ff4500" />
<rect x="830" y="144" width="1" height="38" fill="#28c828" />
<rect x="828" y="146" width="5" height="28" fill="#28c828" />
<rect x="829" y="147" width="3" height="26" fill="#32cd32" />
<rect x="838" y="170" width="1" height="11" fill="#28c828" />
<rect x="836" y="172" width="5" height="8" fill="#28c828" />
<rect x="837" y="173" width="3" height="6" fill="#32cd32" />
<rect x="846" y="179" width="1" height="24" fill="#28c828" />
<rect x="844" y="188" width="5" height="15" fill="#28c828" />
<rect x="845" y="189" width="3" height="13" fill="#32cd32" />
<rect x="854" y="177" width="1" height="45" fill="#28c828" />
<rect x="852" y="201" width="5" height="4" fill="#28c828" />
<rect x="853" y="202" width="3" height="2" fill="#32cd32" />
<rect x="862" y="198" width="1" height="40" fill="#ff0000" />
<rect x="860" y="204" width="5" height="3" fill="#ff0000" />
<rect x="861" y="205" width="3" height="1" fill="#ff4500" />
<rect x="870" y="198" width="1" height="12" fill="#28c828" />
<rect x="868" y="205" width="5" height="4" fill="#28c828" />
<rect x="869" y="206" width="3" height="2" fill="#32cd32" />
<rect x="878" y="200" width="1" height="27" fill="#28c828" />
<rect x="876" y="208" width="5" height="18" fill="#28c828" />
<rect x="877" y="209" width="3" height="16" fill="#32cd32" />
<rect x="886" y="220" width="1" height="13" fill="#28c828" />
<rect x="884" y="226" width="5" height="5" fill="#28c828" />
<rect x="885" y="227" width="3" height="3" fill="#32cd32" />
<rect x="894" y="210" width="1" height="34" fill="#ff0000" />
<rect x="892" y="214" width="5" height="20" fill="#ff0000" />
<rect x="893" y="215" width="3" height="18" fill="#ff4500" />
<rect x="902" y="187" width="1" height="33" fill="#ff0000" />
<rect x="900" y="206" width="5" height="9" fill="#ff0000" />
<rect x="901" y="207" width="3" height="7" fill="#ff4500" />
<rect x="910" y="202" width="1" height="26" fill="#28c828" />
<rect x="908" y="206" width="5" height="21" fill="#28c828" />
<rect x="909" y="207" width="3" height="19" fill="#32cd32" />
<rect x="918" y="221" width="1" height="16" fill="#28c828" />
<rect x="916" y="226" width="5" height="9" fill="#28c828" />
<rect x="917" y="227" width="3" height="7" fill="#32cd32" />
<rect x="926" y="233" width="1" height="32" fill="#28c828" />
<rect x="924" y="237" width="5" height="24" fill="#28c828" />
<rect x="925" y="238" width="3" height="22" fill="#32cd32" />
<rect x="934" y="228" width="1" height="41" fill="#ff0000" />
<rect x="932" y="249" width="5" height="12" fill="#ff0000" />
<rect x="933" y="250" width="3" height="10" fill="#ff4500" />
<rect x="942" y="248" width="1" height="68" fill="#28c828" />
<rect x="940" y="249" width="5" height="55" fill="#28c828" />
<rect x="941" y="250" width="3" height="53" fill="#32cd32" />
<rect x="950" y="299" width="1" height="69" fill="#28c828" />
<rect x="948" y="304" width="5" height="52" fill="#28c828" />
<rect x="949" y="305" width="3" height="50" fill="#32cd32" />
<rect x="958" y="343" width="1" height="92" fill="#28c828" />
<rect x="956" y="355" width="5" height="45" fill="#28c828" />
<rect x="957" y="356" width="3" height="43" fill="#32cd32" />
<rect x="966" y="390" width="1" height="13" fill="#ff0000" />
<rect x="964" y="397" width="5" height="3" fill="#ff0000" />
<rect x="965" y="398" width="3" height="1" fill="#ff4500" />
<rect x="974" y="386" width="1" height="46" fill="#28c828" />
<rect x="972" y="397" width="5" height="31" fill="#28c828" />
<rect x="973" y="398" width="3" height="29" fill="#32cd32" />
<rect x="696" y="297" width="442" height="2" fill="#ff2a2a" />
<rect x="916" y="349" width="212" height="2" fill="#9acd0a" />
<line x1="7" y1="464.5" x2="1231" y2="464.5" stroke="#c0c0c0" stroke-dasharray="3,3"/>
<line x1="7" y1="485.5" x2="1231" y2="485.5" stroke="#c0c0c0" stroke-dasharray="3,3"/>
<path fill="none" stroke="#1e90ff" stroke-width="1" d="M272 468.5h8M289 468.5h6M368 468.5h2M378 468.5h3M386 468.5h8M402 468.5h8M6 469.5h2M252 469.5h5M264 469.5h8M331 469.5h18M364 469.5h4M381 469.5h5M540 469.5h6M45 470.5h3M107 470.5h12M215 470.5h20M248 470.5h4M257 470.5h7M323 470.5h2M329 470.5h2M349 470.5h6M360 470.5h4M536 470.5h4M546 470.5h6M645 470.5h10M9 471.5h2M42 471.5h3M48 471.5h4M65 471.5h8M98 471.5h9M119 471.5h3M140 471.5h15M208 471.5h7M235 471.5h13M327 471.5h2M355 471.5h5M525 471.5h11M552 471.5h4M643 471.5h2M655 471.5h2M669 471.5h5M11 472.5h2M40 472.5h2M52 472.5h13M73 472.5h25M122 472.5h3M136 472.5h4M155 472.5h14M204 472.5h4M522 472.5h3M556 472.5h4M621 472.5h11M641 472.5h2M657 472.5h2M666 472.5h3M674 472.5h5M13 473.5h2M37 473.5h3M125 473.5h11M169 473.5h4M200 473.5h4M520 473.5h2M560 473.5h2M594 473.5h6M618 473.5h3M632 473.5h4M639 473.5h2M659 473.5h2M664 473.5h2M813 473.5h11M15 474.5h3M33 474.5h4M173 474.5h27M514 474.5h6M562 474.5h3M589 474.5h5M600 474.5h4M616 474.5h2M636 474.5h3M661 474.5h3M734 474.5h2M810 474.5h3M824 474.5h4M18 475.5h3M27 475.5h6M494 475.5h4M506 475.5h8M565 475.5h5M586 475.5h3M604 475.5h12M732 475.5h2M736 475.5h4M765 475.5h13M808 475.5h2M828 475.5h6M21 476.5h6M471 476.5h2M492 476.5h2M498 476.5h8M570 476.5h8M584 476.5h2M730 476.5h2M740 476.5h4M762 476.5h3M778 476.5h16M802 476.5h6M834 476.5h6M280 467.5h9M295 467.5h2M319 467.5h2M370 467.5h3M376 467.5h2M394 467.5h8M410 467.5h30M297 466.5h2M307 466.5h12M373 466.5h3M440 466.5h4M299 465.5h2M303 465.5h4M444 465.5h14M301 464.5h2M458 464.5h5M473 477.5h2M490 477.5h2M578 477.5h6M744 477.5h2M760 477.5h2M794 477.5h8M840 477.5h4M898 477.5h6M475 478.5h2M488 478.5h2M727 478.5h2M746 478.5h3M754 478.5h6M844 478.5h22M893 478.5h5M904 478.5h4M477 479.5h5M486 479.5h2M709 479.5h18M749 479.5h5M866 479.5h8M890 479.5h3M908 479.5h6M482 480.5h4M706 480.5h3M874 480.5h8M888 480.5h2M914 480.5h6M704 481.5h2M882 481.5h6M920 481.5h2M932 481.5h3M686 482.5h2M701 482.5h3M922 482.5h3M928 482.5h4M935 482.5h2M688 483.5h2M698 483.5h3M925 483.5h3M937 483.5h2M690 484.5h3M696 484.5h2M939 484.5h2M693 485.5h3M941 485.5h3M944 486.5h2M946 487.5h3M949 488.5h3M952 489.5h4M956 490.5h14M970 491.5h4M5 468.5h1M8 470.5h1M321 468.5h1M322 469.5h1M325 471.5h1M326 472.5h1M463.5 465v2M464 467.5h1M465 468.5h1M466.5 469v2M467 471.5h1M468 472.5h1M469.5 473v2M470 475.5h1M679 473.5h1M680.5 474v2M681 476.5h1M682 477.5h1M683 478.5h1M684.5 479v2M685 481.5h1M729 477.5h1"/>
<rect x="6" y="525" width="2" height="42" fill="#c0c0c0" />
<rect x="13" y="533" width="3" height="34" fill="#c0c0c0" />
<rect x="21" y="540" width="3" height="27" fill="#c0c0c0" />
<rect x="29" y="546" width="3" height="21" fill="#c0c0c0" />
<rect x="37" y="548" width="3" height="19" fill="#c0c0c0" />
<rect x="45" y="547" width="3" height="20" fill="#c0c0c0" />
<rect x="53" y="548" width="3" height="19" fill="#c0c0c0" />
<rect x="61" y="549" width="3" height="18" fill="#c0c0c0" />
<rect x="69" y="550" width="3" height="17" fill="#c0c0c0" />
<rect x="77" y="551" width="3" height="16" fill="#c0c0c0" />
<rect x="85" y="551" width="3" height="16" fill="#c0c0c0" />
<rect x="93" y="552" width="3" height="15" fill="#c0c0c0" />
<rect x="101" y="551" width="3" height="16" fill="#c0c0c0" />
<rect x="109" y="551" width="3" height="16" fill="#c0c0c0" />
<rect x="117" y="549" width="3" height="18" fill="#c0c0c0" />
<rect x="125" y="550" width="3" height="17" fill="#c0c0c0" />
<rect x="133" y="553" width="3" height="14" fill="#c0c0c0" />
<rect x="141" y="552" width="3" height="15" fill="#c0c0c0" />
<rect x="149" y="552" width="3" height="15" fill="#c0c0c0" />
<rect x="157" y="552" width="3" height="15" fill="#c0c0c0" />
<rect x="165" y="552" width="3" height="15" fill="#c0c0c0" />
<rect x="173" y="554" width="3" height="13" fill="#c0c0c0" />
<rect x="181" y="556" width="3" height="11" fill="#c0c0c0" />
<rect x="189" y="558" width="3" height="9" fill="#c0c0c0" />
<rect x="197" y="559" width="3" height="8" fill="#c0c0c0" />
<rect x="205" y="559" width="3" height="8" fill="#c0c0c0" />
<rect x="213" y="558" width="3" height="9" fill="#c0c0c0" />
<rect x="221" y="556" width="3" height="11" fill="#c0c0c0" />
<rect x="229" y="556" width="3" height="11" fill="#c0c0c0" />
<rect x="237" y="555" width="3" height="12" fill="#c0c0c0" />
<rect x="245" y="555" width="3" height="12" fill="#c0c0c0" />
<rect x="253" y="554" width="3" height="13" fill="#c0c0c0" />
<rect x="261" y="554" width="3" height="13" fill="#c0c0c0" />
<rect x="269" y="553" width="3" height="14" fill="#c0c0c0" />
<rect x="277" y="552" width="3" height="15" fill="#c0c0c0" />
<rect x="285" y="551" width="3" height="16" fill="#c0c0c0" />
<rect x="293" y="551" width="3" height="16" fill="#c0c0c0" />
<rect x="301" y="547" width="3" height="20" fill="#c0c0c0" />
<rect x="309" y="546" width="3" height="21" fill="#c0c0c0" />
<rect x="317" y="545" width="3" height="22" fill="#c0c0c0" />
<rect x="325" y="547" width="3" height="20" fill="#c0c0c0" />
<rect x="333" y="547" width="3" height="20" fill="#c0c0c0" />
<rect x="341" y="546" width="3" height="21" fill="#c0c0c0" />
<rect x="349" y="547" width="3" height="20" fill="#c0c0c0" />
<rect x="357" y="547" width="3" height="20" fill="#c0c0c0" />
<rect x="365" y="547" width="3" height="20" fill="#c0c0c0" />
<rect x="373" y="546" width="3" height="21" fill="#c0c0c0" />
<rect x="381" y="546" width="3" height="21" fill="#c0c0c0" />
<rect x="389" y="546" width="3" height="21" fill="#c0c0c0" />
<rect x="397" y="545" width="3" height="22" fill="#c0c0c0" />
<rect x="405" y="545" width="3" height="22" fill="#c0c0c0" />
<rect x="413" y="544" width="3" height="23" fill="#c0c0c0" />
<rect x="421" y="544" width="3" height="23" fill="#c0c0c0" />
<rect x="429" y="544" width="3" height="23" fill="#c0c0c0" />
<rect x="437" y="544" width="3" height="23" fill="#c0c0c0" />
<rect x="445" y="544" width="3" height="23" fill="#c0c0c0" />
<rect x="453" y="543" width="3" height="24" fill="#c0c0c0" />
<rect x="461" y="543" width="3" height="24" fill="#c0c0c0" />
<rect x="469" y="547" width="3" height="20" fill="#c0c0c0" />
<rect x="477" y="553" width="3" height="14" fill="#c0c0c0" />
<rect x="485" y="558" width="3" height="9" fill="#c0c0c0" />
<rect x="493" y="560" width="3" height="7" fill="#c0c0c0" />
<rect x="501" y="562" width="3" height="5" fill="#c0c0c0" />
<rect x="509" y="563" width="3" height="4" fill="#c0c0c0" />
<rect x="517" y="563" width="3" height="4" fill="#c0c0c0" />
<rect x="525" y="562" width="3" height="5" fill="#c0c0c0" />
<rect x="533" y="561" width="3" height="6" fill="#c0c0c0" />
<rect x="541" y="558" width="3" height="9" fill="#c0c0c0" />
<rect x="549" y="558" width="3" height="9" fill="#c0c0c0" />
<rect x="557" y="558" width="3" height="9" fill="#c0c0c0" />
<rect x="565" y="560" width="3" height="7" fill="#c0c0c0" />
<rect x="573" y="562" width="3" height="5" fill="#c0c0c0" />
<rect x="581" y="563" width="3" height="4" fill="#c0c0c0" />
<rect x="589" y="564" width="3" height="3" fill="#c0c0c0" />
<rect x="597" y="564" width="3" height="3" fill="#c0c0c0" />
<rect x="605" y="565" width="3" height="2" fill="#c0c0c0" />
<rect x="613" y="565" width="3" height="2" fill="#c0c0c0" />
<rect x="621" y="563" width="3" height="4" fill="#c0c0c0" />
<rect x="629" y="563" width="3" height="4" fill="#c0c0c0" />
<rect x="637" y="564" width="3" height="3" fill="#c0c0c0" />
<rect x="645" y="562" width="3" height="5" fill="#c0c0c0" />
<rect x="653" y="561" width="3" height="6" fill="#c0c0c0" />
<rect x="661" y="562" width="3" height="5" fill="#c0c0c0" />
<rect x="669" y="561" width="3" height="6" fill="#c0c0c0" />
<rect x="677" y="561" width="3" height="6" fill="#c0c0c0" />
<rect x="685" y="567" width="3" height="1" fill="#c0c0c0" />
<rect x="693" y="567" width="3" height="9" fill="#c0c0c0" />
<rect x="701" y="567" width="3" height="14" fill="#c0c0c0" />
<rect x="709" y="567" width="3" height="15" fill="#c0c0c0" />
<rect x="717" y="567" width="3" height="16" fill="#c0c0c0" />
<rect x="725" y="567" width="3" height="17" fill="#c0c0c0" />
<rect x="733" y="567" width="3" height="14" fill="#c0c0c0" />
<rect x="741" y="567" width="3" height="13" fill="#c0c0c0" />
<rect x="749" y="567" width="3" height="15" fill="#c0c0c0" />
<rect x="757" y="567" width="3" height="15" fill="#c0c0c0" />
<rect x="765" y="567" width="3" height="14" fill="#c0c0c0" />
<rect x="773" y="567" width="3" height="12" fill="#c0c0c0" />
<rect x="781" y="567" width="3" height="11" fill="#c0c0c0" />
<rect x="789" y="567" width="3" height="10" fill="#c0c0c0" />
<rect x="797" y="567" width="3" height="10" fill="#c0c0c0" />
<rect x="805" y="567" width="3" height="9" fill="#c0c0c0" />
<rect x="813" y="567" width="3" height="7" fill="#c0c0c0" />
<rect x="821" y="567" width="3" height="5" fill="#c0c0c0" />
<rect x="829" y="567" width="3" height="5" fill="#c0c0c0" />
<rect x="837" y="567" width="3" height="5" fill="#c0c0c0" />
<rect x="845" y="567" width="3" height="6" fill="#c0c0c0" />
<rect x="853" y="567" width="3" height="7" fill="#c0c0c0" />
<rect x="861" y="567" width="3" height="8" fill="#c0c0c0" />
<rect x="869" y="567" width="3" height="9" fill="#c0c0c0" />
<rect x="877" y="567" width="3" height="10" fill="#c0c0c0" />
<rect x="885" y="567" width="3" height="12" fill="#c0c0c0" />
<rect x="893" y="567" width="3" height="11" fill="#c0c0c0" />
<rect x="901" y="567" width="3" height="11" fill="#c0c0c0" />
<rect x="909" y="567" width="3" height="11" fill="#c0c0c0" />
<rect x="917" y="567" width="3" height="12" fill="#c0c0c0" />
<rect x="925" y="567" width="3" height="14" fill="#c0c0c0" />
<rect x="933" y="567" width="3" height="15" fill="#c0c0c0" />
<rect x="941" y="567" width="3" height="19" fill="#c0c0c0" />
<rect x="949" y="567" width="3" height="24" fill="#c0c0c0" />
<rect x="957" y="567" width="3" height="31" fill="#c0c0c0" />
<rect x="965" y="567" width="3" height="36" fill="#c0c0c0" />
<rect x="973" y="567" width="3" height="39" fill="#c0c0c0" />
<path fill="none" stroke="#ff0000" stroke-width="1" d="M5 510.5h2M7 511.5h2M9 512.5h3M12 513.5h2M14 514.5h2M16 515.5h2M20 518.5h2M23 520.5h2M26 522.5h2M29 524.5h2M31 525.5h2M34 527.5h2M37 529.5h2M39 530.5h2M41 531.5h2M43 532.5h2M45 533.5h3M48 534.5h2M50 535.5h3M53 536.5h2M55 537.5h3M58 538.5h3M61 539.5h2M63 540.5h3M66 541.5h3M69 542.5h2M71 543.5h3M452 543.5h11M74 544.5h2M448 544.5h4M463 544.5h13M76 545.5h3M426 545.5h22M476 545.5h6M79 546.5h3M402 546.5h24M482 546.5h4M82 547.5h4M354 547.5h48M486 547.5h3M86 548.5h4M338 548.5h16M489 548.5h4M90 549.5h6M330 549.5h8M493 549.5h3M96 550.5h36M319 550.5h11M496 550.5h4M132 551.5h48M313 551.5h6M500 551.5h4M180 552.5h8M303 552.5h10M504 552.5h4M188 553.5h6M290 553.5h13M508 553.5h4M194 554.5h7M280 554.5h10M512 554.5h4M201 555.5h12M274 555.5h6M516 555.5h4M213 556.5h13M265 556.5h9M520 556.5h4M226 557.5h39M524 557.5h5M529 558.5h5M534 559.5h6M540 560.5h6M570 560.5h8M546 561.5h24M578 561.5h30M608 562.5h4M612 563.5h22M650 563.5h40M634 564.5h16M690 564.5h7M697 565.5h5M702 566.5h6M708 567.5h4M712 568.5h4M716 569.5h4M720 570.5h4M724 571.5h4M728 572.5h4M732 573.5h4M838 573.5h52M736 574.5h4M828 574.5h10M890 574.5h8M740 575.5h3M822 575.5h6M898 575.5h16M743 576.5h2M817 576.5h5M914 576.5h8M745 577.5h2M810 577.5h7M922 577.5h8M747 578.5h2M802 578.5h8M930 578.5h8M749 579.5h5M782 579.5h20M938 579.5h8M754 580.5h8M770 580.5h12M946 580.5h6M762 581.5h8M952 581.5h2M954 582.5h3M957 583.5h3M960 584.5h4M964 585.5h4M968 586.5h2M970 587.5h3M973 588.5h2M18 516.5h1M19 517.5h1M22 519.5h1M25 521.5h1M28 523.5h1M33 526.5h1M36 528.5h1"/>
</g>
<rect x="1232" y="45" width="2" height="1" fill="#000" />
<text x="1236.5" y="49" font-size="10" fill="#000" font-weight="normal" text-anchor="start" textLength="34" lengthAdjust="spacingAndGlyphs" >6.98360</text>
<rect x="1232" y="78" width="2" height="1" fill="#000" />
<text x="1236.5" y="82" font-size="10" fill="#000" font-weight="normal" text-anchor="start" textLength="34" lengthAdjust="spacingAndGlyphs" >6.96260</text>
<rect x="1232" y="111" width="2" height="1" fill="#000" />
<text x="1236.5" y="115" font-size="10" fill="#000" font-weight="normal" text-anchor="start" textLength="34" lengthAdjust="spacingAndGlyphs" >6.94160</text>
<rect x="1232" y="144" width="2" height="1" fill="#000" />
<text x="1236.5" y="148" font-size="10" fill="#000" font-weight="normal" text-anchor="start" textLength="34" lengthAdjust="spacingAndGlyphs" >6.92060</text>
<rect x="1232" y="177" width="2" height="1" fill="#000" />
<text x="1236.5" y="181" font-size="10" fill="#000" font-weight="normal" text-anchor="start" textLength="34" lengthAdjust="spacingAndGlyphs" >6.89960</text>
<rect x="1232" y="210" width="2" height="1" fill="#000" />
<text x="1236.5" y="214" font-size="10" fill="#000" font-weight="normal" text-anchor="start" textLength="34" lengthAdjust="spacingAndGlyphs" >6.87860</text>
<rect x="1232" y="243" width="2" height="1" fill="#000" />
<text x="1236.5" y="247" font-size="10" fill="#000" font-weight="normal" text-anchor="start" textLength="34" lengthAdjust="spacingAndGlyphs" >6.85760</text>
<rect x="1232" y="276" width="2" height="1" fill="#000" />
<text x="1236.5" y="280" font-size="10" fill="#000" font-weight="normal" text-anchor="start" textLength="34" lengthAdjust="spacingAndGlyphs" >6.83660</text>
<rect x="1232" y="309" width="2" height="1" fill="#000" />
<text x="1236.5" y="313" font-size="10" fill="#000" font-weight="normal" text-anchor="start" textLength="34" lengthAdjust="spacingAndGlyphs" >6.81560</text>
<rect x="1232" y="342" width="2" height="1" fill="#000" />
<text x="1236.5" y="346" font-size="10" fill="#000" font-weight="normal" text-anchor="start" textLength="34" lengthAdjust="spacingAndGlyphs" >6.79460</text>
<rect x="1232" y="375" width="2" height="1" fill="#000" />
<text x="1236.5" y="379" font-size="10" fill="#000" font-weight="normal" text-anchor="start" textLength="34" lengthAdjust="spacingAndGlyphs" >6.77360</text>
<rect x="1232" y="408" width="2" height="1" fill="#000" />
<text x="1236.5" y="412" font-size="10" fill="#000" font-weight="normal" text-anchor="start" textLength="34" lengthAdjust="spacingAndGlyphs" >6.75320</text>
<rect x="1232" y="441" width="2" height="1" fill="#000" />
<text x="1236.5" y="445" font-size="10" fill="#000" font-weight="normal" text-anchor="start" textLength="34" lengthAdjust="spacingAndGlyphs" >6.73220</text>
<rect x="1233" y="422" width="41" height="11" fill="#000" />
<text x="1236.5" y="431" font-size="10" fill="#fff" font-weight="normal" text-anchor="start" textLength="34" lengthAdjust="spacingAndGlyphs" >6.74097</text>
<text x="1234.5" y="457" font-size="10" fill="#000" font-weight="normal" text-anchor="start" textLength="16" lengthAdjust="spacingAndGlyphs" >100</text>
<text x="1234.5" y="468" font-size="10" fill="#000" font-weight="normal" text-anchor="start" textLength="11" lengthAdjust="spacingAndGlyphs" >70</text>
<text x="1234.5" y="489" font-size="10" fill="#000" font-weight="normal" text-anchor="start" textLength="11" lengthAdjust="spacingAndGlyphs" >30</text>
<text x="1234.7" y="500" font-size="10" fill="#000" font-weight="normal" text-anchor="start" textLength="5.5" lengthAdjust="spacingAndGlyphs" >0</text>
<rect x="1232" y="448" width="2" height="1" fill="#000" />
<rect x="1232" y="501" width="2" height="1" fill="#000" />
<rect x="1232" y="506" width="2" height="1" fill="#000" />
<rect x="1232" y="611" width="2" height="1" fill="#000" />
<text x="1234.5" y="515" font-size="10" fill="#000" font-weight="normal" text-anchor="start" textLength="39" lengthAdjust="spacingAndGlyphs" >0.053532</text>
<text x="1234.5" y="571" font-size="10" fill="#000" font-weight="normal" text-anchor="start" textLength="19" lengthAdjust="spacingAndGlyphs" >0.00</text>
<text x="1234.3" y="609" font-size="10" fill="#000" font-weight="normal" text-anchor="start" textLength="41.5" lengthAdjust="spacingAndGlyphs" >-0.039333</text>
<rect x="1232" y="567" width="2" height="1" fill="#000" />
<rect x="6" y="613" width="1" height="3" fill="#000" />
<text x="4.5" y="625" font-size="10" fill="#000" font-weight="normal" text-anchor="start" textLength="54" lengthAdjust="spacingAndGlyphs" >23 Aug 2018</text>
<rect x="70" y="613" width="1" height="3" fill="#000" />
<text x="68.5" y="625" font-size="10" fill="#000" font-weight="normal" text-anchor="start" textLength="48" lengthAdjust="spacingAndGlyphs" >4 Sep 2018</text>
<rect x="134" y="613" width="1" height="3" fill="#000" />
<text x="132.5" y="625" font-size="10" fill="#000" font-weight="normal" text-anchor="start" textLength="53" lengthAdjust="spacingAndGlyphs" >13 Sep 2018</text>
<rect x="198" y="613" width="1" height="3" fill="#000" />
<text x="196.5" y="625" font-size="10" fill="#000" font-weight="normal" text-anchor="start" textLength="53" lengthAdjust="spacingAndGlyphs" >22 Sep 2018</text>
<rect x="262" y="613" width="1" height="3" fill="#000" />
<text x="260.5" y="625" font-size="10" fill="#000" font-weight="normal" text-anchor="start" textLength="46.5" lengthAdjust="spacingAndGlyphs" >2 Oct 2018</text>
<rect x="326" y="613" width="1" height="3" fill="#000" />
<text x="324.5" y="625" font-size="10" fill="#000" font-weight="normal" text-anchor="start" textLength="52" lengthAdjust="spacingAndGlyphs" >11 Oct 2018</text>
<rect x="390" y="613" width="1" height="3" fill="#000" />
<text x="388.5" y="625" font-size="10" fill="#000" font-weight="normal" text-anchor="start" textLength="52" lengthAdjust="spacingAndGlyphs" >20 Oct 2018</text>
<rect x="454" y="613" width="1" height="3" fill="#000" />
<text x="452.5" y="625" font-size="10" fill="#000" font-weight="normal" text-anchor="start" textLength="52" lengthAdjust="spacingAndGlyphs" >30 Oct 2018</text>
<rect x="518" y="613" width="1" height="3" fill="#000" />
<text x="516.5" y="625" font-size="10" fill="#000" font-weight="normal" text-anchor="start" textLength="50" lengthAdjust="spacingAndGlyphs" >8 Nov 2018</text>
<rect x="582" y="613" width="1" height="3" fill="#000" />
<text x="580.5" y="625" font-size="10" fill="#000" font-weight="normal" text-anchor="start" textLength="54" lengthAdjust="spacingAndGlyphs" >17 Nov 2018</text>
<rect x="646" y="613" width="1" height="3" fill="#000" />
<text x="644.5" y="625" font-size="10" fill="#000" font-weight="normal" text-anchor="start" textLength="54" lengthAdjust="spacingAndGlyphs" >27 Nov 2018</text>
<rect x="710" y="613" width="1" height="3" fill="#000" />
<text x="708.5" y="625" font-size="10" fill="#000" font-weight="normal" text-anchor="start" textLength="47.5" lengthAdjust="spacingAndGlyphs" >6 Dec 2018</text>
<rect x="774" y="613" width="1" height="3" fill="#000" />
<text x="772.5" y="625" font-size="10" fill="#000" font-weight="normal" text-anchor="start" textLength="53" lengthAdjust="spacingAndGlyphs" >15 Dec 2018</text>
<rect x="838" y="613" width="1" height="3" fill="#000" />
<text x="836.5" y="625" font-size="10" fill="#000" font-weight="normal" text-anchor="start" textLength="53" lengthAdjust="spacingAndGlyphs" >25 Dec 2018</text>
<rect x="902" y="613" width="1" height="3" fill="#000" />
<text x="900.5" y="625" font-size="10" fill="#000" font-weight="normal" text-anchor="start" textLength="45.5" lengthAdjust="spacingAndGlyphs" >3 Jan 2019</text>
<rect x="966" y="613" width="1" height="3" fill="#000" />
<text x="964.5" y="625" font-size="10" fill="#000" font-weight="normal" text-anchor="start" textLength="51" lengthAdjust="spacingAndGlyphs" >12 Jan 2019</text>
<path d="M8.8 42.3 L16.2 42.3 L12.5 37.9 Z" fill="#000"/>
<text x="21" y="43" font-size="10" fill="#000" font-weight="normal" text-anchor="start" textLength="66" lengthAdjust="spacingAndGlyphs" >USDCNH,Daily</text>
<text x="92.7" y="43" font-size="10" fill="#000" font-weight="normal" text-anchor="start" textLength="141.5" lengthAdjust="spacingAndGlyphs" >6.75977 6.76718 6.73828 6.74097</text>
<text x="10" y="459" font-size="10" fill="#000" font-weight="normal" text-anchor="start" textLength="69" lengthAdjust="spacingAndGlyphs" >RSI(14) 19.1497</text>
<text x="10" y="517" font-size="10" fill="#000" font-weight="normal" text-anchor="start" textLength="154" lengthAdjust="spacingAndGlyphs" >MACD(12,26,9) -0.035112 -0.019225</text>
<defs>
<linearGradient id="g1" gradientUnits="userSpaceOnUse" x1="0" y1="51" x2="0" y2="75"><stop offset="0" stop-color="#f84e4e"/><stop offset="1" stop-color="#e02c2c"/></linearGradient>
<linearGradient id="g2" gradientUnits="userSpaceOnUse" x1="0" y1="75" x2="0" y2="115"><stop offset="0" stop-color="#dc2a2a"/><stop offset="0.55" stop-color="#c81414"/><stop offset="1" stop-color="#ae0000"/></linearGradient>
<linearGradient id="g3" x1="0" y1="0" x2="0" y2="1"><stop offset="0" stop-color="#f2f2f2"/><stop offset="0.48" stop-color="#e6e6e8"/><stop offset="0.52" stop-color="#d2d3d6"/><stop offset="1" stop-color="#cfd0d3"/></linearGradient>
</defs>
<rect x="9" y="51" width="52" height="24" fill="url(#g1)" />
<rect x="176" y="51" width="52" height="24" fill="url(#g1)" />
<rect x="9" y="75" width="109" height="40" fill="url(#g2)" />
<rect x="120" y="75" width="108" height="40" fill="url(#g2)" />
<rect x="9" y="51" width="52" height="1" fill="#cc1818" />
<rect x="176" y="51" width="52" height="1" fill="#cc1818" />
<rect x="9" y="51" width="1" height="64" fill="#c41010" />
<rect x="227" y="51" width="1" height="64" fill="#c41010" />
<rect x="60" y="51" width="1" height="24" fill="#d42020" />
<rect x="176" y="51" width="1" height="24" fill="#d42020" />
<rect x="117" y="75" width="1" height="40" fill="#b40808" />
<rect x="120" y="75" width="1" height="40" fill="#b40808" />
<rect x="9" y="114" width="109" height="1" fill="#a80000" />
<rect x="120" y="114" width="108" height="1" fill="#a80000" />
<rect x="13" y="74" width="44" height="1" fill="#f49090" />
<rect x="180" y="74" width="44" height="1" fill="#f49090" />
<rect x="63" y="51" width="111" height="22" fill="#a9adb6" />
<rect x="64" y="52" width="109" height="20" fill="#ffffff" />
<rect x="64" y="52" width="20" height="20" fill="url(#g3)" />
<rect x="84" y="52" width="1" height="20" fill="#b4b8c0" />
<rect x="153" y="52" width="20" height="20" fill="url(#g3)" />
<rect x="152" y="52" width="1" height="20" fill="#b4b8c0" />
<path d="M70.8 60.2 L77.2 60.2 L74 63.6 Z" fill="#4a64c4"/>
<path d="M159.8 63.6 L166.2 63.6 L163 60.2 Z" fill="#4a64c4"/>
<text x="124.6" y="66" font-size="12.8" fill="#000" font-weight="normal" text-anchor="start" textLength="25" lengthAdjust="spacingAndGlyphs" >0.01</text>
<text x="20.6" y="66.6" font-size="12" fill="#fff" font-weight="normal" text-anchor="start" textLength="27.2" lengthAdjust="spacingAndGlyphs" >SELL</text>
<text x="188.6" y="66.6" font-size="12" fill="#fff" font-weight="normal" text-anchor="start" textLength="25.2" lengthAdjust="spacingAndGlyphs" >BUY</text>
<text x="28.5" y="105.5" font-size="10.8" fill="#fff" font-weight="bold" text-anchor="start" textLength="24.5" lengthAdjust="spacingAndGlyphs" >6.74</text>
<text x="138.5" y="105.5" font-size="10.8" fill="#fff" font-weight="bold" text-anchor="start" textLength="24.5" lengthAdjust="spacingAndGlyphs" >6.74</text>
<text x="54.4" y="105.8" font-size="34.5" fill="#fff" font-weight="normal" text-anchor="start" textLength="38" lengthAdjust="spacingAndGlyphs" stroke="url(#g2)" stroke-width="0.8" paint-order="fill">09</text>
<text x="166.8" y="105.8" font-size="34.5" fill="#fff" font-weight="normal" text-anchor="start" textLength="37" lengthAdjust="spacingAndGlyphs" stroke="url(#g2)" stroke-width="0.8" paint-order="fill">33</text>
<text x="95.6" y="90.5" font-size="12" fill="#fff" font-weight="normal" text-anchor="start" textLength="7.2" lengthAdjust="spacingAndGlyphs" >7</text>
<text x="206.6" y="90.2" font-size="12" fill="#fff" font-weight="normal" text-anchor="start" textLength="7.4" lengthAdjust="spacingAndGlyphs" >8</text>
<rect x="407" y="635" width="104" height="19" fill="#ffffff" />
<rect x="407" y="635" width="1" height="19" fill="#000" />
<rect x="510" y="635" width="1" height="19" fill="#000" />
<rect x="407" y="653" width="104" height="1" fill="#000" />
<text x="18.7" y="650" font-size="13" fill="#5e5e5e" font-weight="normal" text-anchor="start" textLength="68.9" lengthAdjust="spacingAndGlyphs" >EURUSD,H4</text>
<text x="109.5" y="650" font-size="13" fill="#5e5e5e" font-weight="normal" text-anchor="start" textLength="83.0" lengthAdjust="spacingAndGlyphs" >AUDUSD,Daily</text>
<text x="212.7" y="650" font-size="13" fill="#5e5e5e" font-weight="normal" text-anchor="start" textLength="79.3" lengthAdjust="spacingAndGlyphs" >USDCHF,Daily</text>
<text x="313.59999999999997" y="650" font-size="13" fill="#5e5e5e" font-weight="normal" text-anchor="start" textLength="81.2" lengthAdjust="spacingAndGlyphs" >USDCAD,Daily</text>
<text x="416.9" y="650" font-size="13" fill="#000" font-weight="normal" text-anchor="start" textLength="83.9" lengthAdjust="spacingAndGlyphs" >USDCNH,Daily</text>
<text x="520.4000000000001" y="650" font-size="13" fill="#5e5e5e" font-weight="normal" text-anchor="start" textLength="75.6" lengthAdjust="spacingAndGlyphs" >USDJPY,Daily</text>
<text x="616.2" y="650" font-size="13" fill="#5e5e5e" font-weight="normal" text-anchor="start" textLength="95.8" lengthAdjust="spacingAndGlyphs" >XAUUSD,Weekly</text>
<text x="734.9000000000001" y="650" font-size="13" fill="#5e5e5e" font-weight="normal" text-anchor="start" textLength="67.9" lengthAdjust="spacingAndGlyphs" >GBPUSD,H1</text>
<text x="826.0" y="650" font-size="13" fill="#5e5e5e" font-weight="normal" text-anchor="start" textLength="65.2" lengthAdjust="spacingAndGlyphs" >SP500,M15</text>
<text x="914.6" y="650" font-size="13" fill="#5e5e5e" font-weight="normal" text-anchor="start" textLength="80.8" lengthAdjust="spacingAndGlyphs" >GBPUSD,Daily</text>
<text x="1016.4000000000001" y="650" font-size="13" fill="#5e5e5e" font-weight="normal" text-anchor="start" textLength="48.1" lengthAdjust="spacingAndGlyphs" >DJ30,H4</text>
<text x="1084.7" y="650" font-size="13" fill="#5e5e5e" font-weight="normal" text-anchor="start" textLength="71.4" lengthAdjust="spacingAndGlyphs" >TECH100,H1</text>
<text x="1178.3" y="650" font-size="13" fill="#5e5e5e" font-weight="normal" text-anchor="start" textLength="53.2" lengthAdjust="spacingAndGlyphs" >UKOil,H1</text>
<rect x="99" y="638" width="1" height="14" fill="#808080" />
<rect x="203" y="638" width="1" height="14" fill="#808080" />
<rect x="303" y="638" width="1" height="14" fill="#808080" />
<rect x="607" y="638" width="1" height="14" fill="#808080" />
<rect x="723" y="638" width="1" height="14" fill="#808080" />
<rect x="815" y="638" width="1" height="14" fill="#808080" />
<rect x="903" y="638" width="1" height="14" fill="#808080" />
<rect x="1007" y="638" width="1" height="14" fill="#808080" />
<rect x="1075" y="638" width="1" height="14" fill="#808080" />
<rect x="1167" y="638" width="1" height="14" fill="#808080" />
<path d="M1250.3 640.8 L1250.3 647.4 L1246.6 644.1 Z" fill="#a0a0a0"/>
<path d="M1265.7 640.8 L1265.7 647.4 L1269.5 644.1 Z" fill="#000"/>
</svg>
</body></html>
